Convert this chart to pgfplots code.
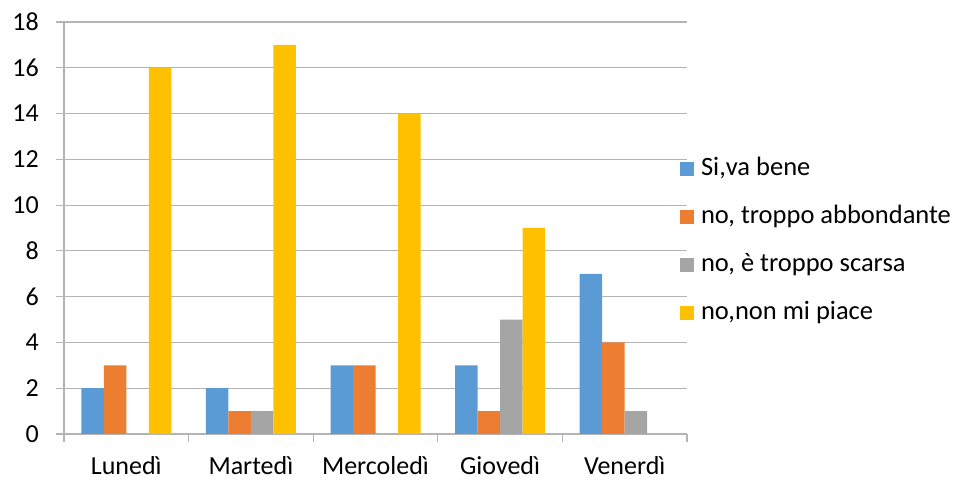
\documentclass[border=0pt]{standalone}
\usepackage{pgfplots}
\pgfplotsset{compat=1.18}
\usepackage{fontspec}
\setmainfont{Carlito}

\definecolor{sBlue}{HTML}{5B9BD5}
\definecolor{sOrange}{HTML}{ED7D31}
\definecolor{sGray}{HTML}{A5A5A5}
\definecolor{sGold}{HTML}{FFC000}
\definecolor{gridcol}{HTML}{B4B4B4}

\begin{document}
\begin{tikzpicture}
\path[use as bounding box] (0,0) rectangle (958pt,481pt);
\begin{axis}[
  at={(64pt,47pt)}, anchor=south west,
  scale only axis, width=623pt, height=412pt,
  ybar=0pt, bar width=22.5pt,
  xmin=-0.5, xmax=4.5, ymin=0, ymax=18,
  ytick={0,2,...,18},
  ymajorgrids, grid style={gridcol, line width=1.2pt},
  axis x line*=bottom, axis y line*=left,
  axis line style={gridcol, line width=1.2pt, -},
  xtick={-0.5,0.5,...,4.5},
  x tick label as interval,
  xticklabels={Lunedì,Martedì,Mercoledì,Giovedì,Venerdì},
  tick align=outside, major tick length=8pt,
  tick style={gridcol, line width=1.2pt},
  font=\fontsize{26}{31}\selectfont,
  /pgf/number format/assume math mode=true,
  yticklabel style={inner sep=0pt, xshift=-17pt},
  xticklabel style={inner sep=0pt, yshift=-14pt},
  legend image code/.code={\fill[#1] (0pt,-1pt) rectangle (14pt,13pt);},
  legend style={draw=none, fill=none, inner sep=0pt, outer sep=0pt,
    at={(0.9888,0.672)}, anchor=north west,
    column sep=7pt, row sep=24pt,
    font=\fontsize{26.5}{31}\selectfont,
    nodes={inner sep=0pt, text height=18pt, text depth=6pt, anchor=base west}},
  legend cell align=left,
]
\addplot[fill=sBlue, draw=none] coordinates {(0,2) (1,2) (2,3) (3,3) (4,7)};
\addplot[fill=sOrange, draw=none] coordinates {(0,3) (1,1) (2,3) (3,1) (4,4)};
\addplot[fill=sGray, draw=none] coordinates {(0,0) (1,1) (2,0) (3,5) (4,1)};
\addplot[fill=sGold, draw=none] coordinates {(0,16) (1,17) (2,14) (3,9) (4,0)};
\legend{{Si,va bene},{no, troppo abbondante},{no, è troppo scarsa},{no,non mi piace}}
\end{axis}
\end{tikzpicture}
\end{document}
